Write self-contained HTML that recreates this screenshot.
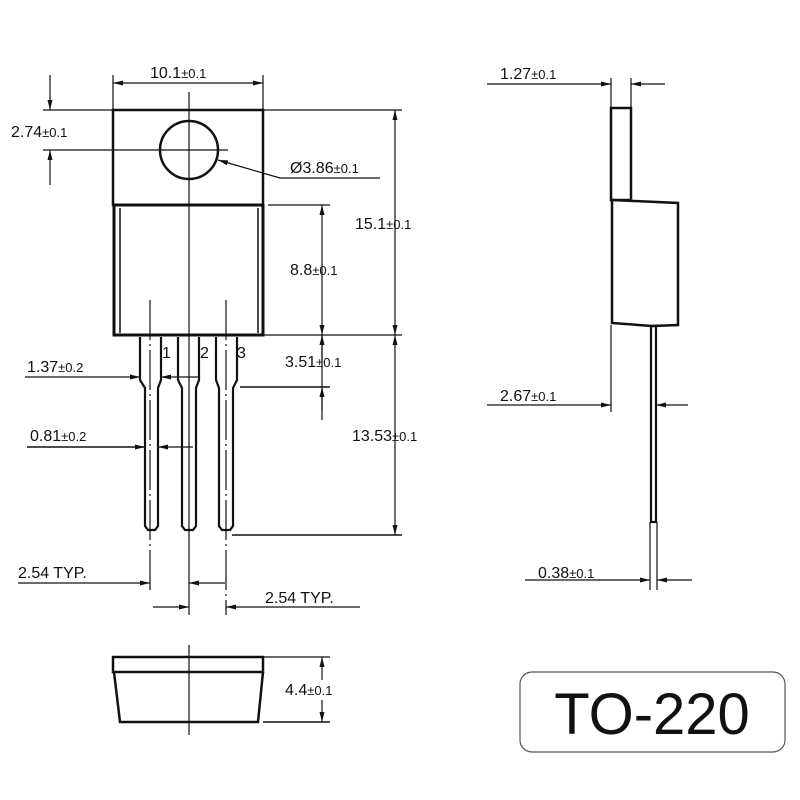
<!DOCTYPE html>
<html><head><meta charset="utf-8"><style>html,body{margin:0;padding:0;background:#fff}svg{display:block}text{font-family:"Liberation Sans",sans-serif;fill:#111}</style></head>
<body>
<svg width="800" height="800" viewBox="0 0 800 800" xmlns="http://www.w3.org/2000/svg">
<defs>
<marker id="a" markerWidth="10" markerHeight="6" refX="10" refY="3" orient="auto-start-reverse" markerUnits="userSpaceOnUse"><path d="M0,0.5 L10,3 L0,5.5 Z" fill="#111"/></marker>
</defs>
<g stroke="#111" fill="none" stroke-width="1.2">
<rect x="113" y="110" width="150" height="95" stroke-width="2.5"/>
<rect x="114" y="205" width="149" height="130" stroke-width="3"/>
<line x1="120" y1="208" x2="120" y2="333" stroke-width="1.5"/>
<line x1="258" y1="208" x2="258" y2="333" stroke-width="1.5"/>
<circle cx="189" cy="150" r="29" stroke-width="2.5"/>
<line x1="189" y1="92" x2="189" y2="310"/>
<line x1="43" y1="150" x2="228" y2="150"/>
<line x1="43" y1="110" x2="113" y2="110"/>
<line x1="263" y1="110" x2="402" y2="110"/>
<line x1="113" y1="75" x2="113" y2="110"/><line x1="263" y1="75" x2="263" y2="110"/>
<line x1="113" y1="83" x2="263" y2="83" marker-start="url(#a)" marker-end="url(#a)"/>
<line x1="50" y1="75" x2="50" y2="110" marker-end="url(#a)"/>
<line x1="50" y1="185" x2="50" y2="150" marker-end="url(#a)"/>
<polyline points="380,178 280,178 218,160" marker-end="url(#a)"/>
<line x1="268" y1="205" x2="330" y2="205"/>
<line x1="322" y1="205" x2="322" y2="335" marker-start="url(#a)" marker-end="url(#a)"/>
<line x1="395" y1="110" x2="395" y2="335" marker-start="url(#a)" marker-end="url(#a)"/>
<line x1="263" y1="335" x2="402" y2="335"/>
<g stroke-width="2.2">
<path d="M140,337 V380 L145,388 V526 L148,530 H155 L158,526 V388 L161,380 V337"/>
<path d="M178,337 V380 L182,388 V526 L185,530 H193 L196,526 V388 L199,380 V337"/>
<path d="M216,337 V380 L219,388 V526 L222,530 H230 L233,526 V388 L237,380 V337"/>
</g>
<line x1="150" y1="300" x2="150" y2="590" stroke-dasharray="40 4 2 4"/>
<line x1="189" y1="310" x2="189" y2="615"/>
<line x1="226" y1="300" x2="226" y2="615" stroke-dasharray="40 4 2 4"/>
<line x1="25" y1="377" x2="140" y2="377" marker-end="url(#a)"/>
<line x1="198" y1="377" x2="161" y2="377" marker-end="url(#a)"/>
<line x1="240" y1="387" x2="330" y2="387" stroke-width="1.5"/>
<line x1="322" y1="335" x2="322" y2="420"/>
<line x1="322" y1="360" x2="322" y2="335" marker-end="url(#a)"/>
<line x1="322" y1="410" x2="322" y2="387" marker-end="url(#a)"/>
<line x1="27" y1="447" x2="145" y2="447" stroke-width="1.5" marker-end="url(#a)"/>
<line x1="193" y1="447" x2="158" y2="447" marker-end="url(#a)"/>
<line x1="395" y1="335" x2="395" y2="535" marker-start="url(#a)" marker-end="url(#a)"/>
<line x1="232" y1="535" x2="402" y2="535" stroke-width="1.5"/>
<line x1="18" y1="583" x2="150" y2="583" marker-end="url(#a)"/>
<line x1="225" y1="583" x2="189" y2="583" marker-end="url(#a)"/>
<line x1="153" y1="607" x2="189" y2="607" marker-end="url(#a)"/>
<line x1="360" y1="607" x2="226" y2="607" marker-end="url(#a)"/>
<line x1="487" y1="84" x2="611" y2="84" marker-end="url(#a)"/>
<line x1="665" y1="84" x2="631" y2="84" marker-end="url(#a)"/>
<line x1="611" y1="78" x2="611" y2="108"/><line x1="631" y1="78" x2="631" y2="108"/>
<rect x="611" y="108" width="20" height="92" stroke-width="2.5"/>
<path d="M612,200 L678,203 V325 L652,326 L612,323 Z" stroke-width="2.5"/>
<rect x="651" y="326" width="5" height="196" stroke-width="2.2"/>
<line x1="650" y1="522" x2="650" y2="590"/><line x1="657" y1="522" x2="657" y2="590"/>
<line x1="611" y1="325" x2="611" y2="412"/>
<line x1="487" y1="405" x2="611" y2="405" marker-end="url(#a)"/>
<line x1="688" y1="405" x2="656" y2="405" marker-end="url(#a)"/>
<line x1="525" y1="580" x2="650" y2="580" marker-end="url(#a)"/>
<line x1="692" y1="580" x2="657" y2="580" marker-end="url(#a)"/>
<rect x="113" y="657" width="150" height="15" stroke-width="2.5"/>
<path d="M114,672 L120,722 H258 L263,672" stroke-width="2.5"/>
<line x1="189" y1="645" x2="189" y2="735"/>
<line x1="263" y1="657" x2="330" y2="657"/><line x1="263" y1="722" x2="330" y2="722" stroke-width="1.5"/>
<line x1="322" y1="680" x2="322" y2="657" marker-end="url(#a)"/>
<line x1="322" y1="700" x2="322" y2="722" marker-end="url(#a)"/>
<rect x="520" y="672" width="265" height="80" rx="12" stroke="#555"/>
</g>
<g font-size="16">
<text x="150" y="78">10.1<tspan font-size="13">±0.1</tspan></text>
<text x="11" y="137">2.74<tspan font-size="13">±0.1</tspan></text>
<text x="290" y="173">Ø3.86<tspan font-size="13">±0.1</tspan></text>
<text x="355" y="229">15.1<tspan font-size="13">±0.1</tspan></text>
<text x="290" y="275">8.8<tspan font-size="13">±0.1</tspan></text>
<text x="162" y="358">1</text><text x="200" y="358">2</text><text x="237" y="358">3</text>
<text x="27" y="372">1.37<tspan font-size="13">±0.2</tspan></text>
<text x="285" y="367">3.51<tspan font-size="13">±0.1</tspan></text>
<text x="30" y="441">0.81<tspan font-size="13">±0.2</tspan></text>
<text x="352" y="441">13.53<tspan font-size="13">±0.1</tspan></text>
<text x="18" y="578">2.54 TYP.</text>
<text x="265" y="603">2.54 TYP.</text>
<text x="500" y="79">1.27<tspan font-size="13">±0.1</tspan></text>
<text x="500" y="401">2.67<tspan font-size="13">±0.1</tspan></text>
<text x="538" y="578">0.38<tspan font-size="13">±0.1</tspan></text>
<text x="285" y="695">4.4<tspan font-size="13">±0.1</tspan></text>
</g>
<text x="652" y="734" font-size="58" text-anchor="middle">TO-220</text>
</svg>
</body></html>
